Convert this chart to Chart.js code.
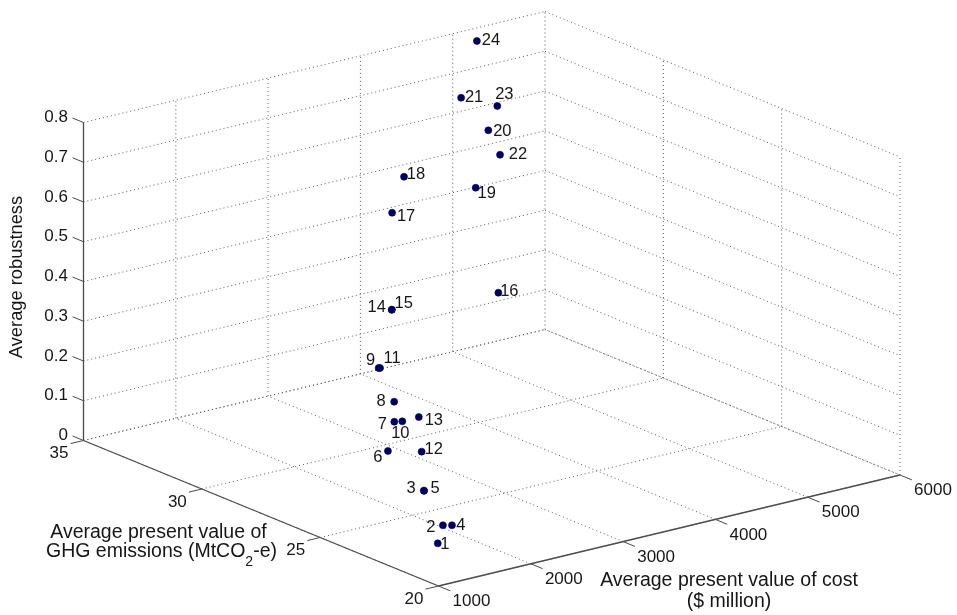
<!DOCTYPE html>
<html>
<head>
<meta charset="utf-8">
<style>html,body{margin:0;padding:0;background:#fff}canvas{display:block}</style>
<script src="https://cdn.jsdelivr.net/npm/chart.js@4"></script>
</head>
<body>
<canvas id="c" width="957" height="615"></canvas>
<script>
// ---- data ----
const pointLabels = ['1','2','3','4','5','6','7','8','9','10','11','12','13','14','15','16','17','18','19','20','21','22','23','24'];
const costValues = [1374,1512,1694,1574,1694,1911,2111,2112,2236,2172,2246,2130,2356,2635,2635,3646,2928,3278,3916,4296,4322,4300,4432,5044];
const ghgValues = [21.49,21.81,23.32,21.67,23.32,25.69,26.20,26.21,27.35,26.10,27.33,25.12,26.12,28.35,28.35,27.79,29.48,30.34,29.80,30.75,32.00,30.27,30.90,34.15];
const robustnessValues = [0.05,0.08,0.12,0.08,0.12,0.15,0.20,0.25,0.30,0.20,0.30,0.15,0.20,0.40,0.40,0.40,0.60,0.65,0.60,0.70,0.75,0.65,0.75,0.80];
const costTicks = [1000,2000,3000,4000,5000,6000];
const ghgTicks = [20,25,30,35];
const robustnessTicks = [0,0.1,0.2,0.3,0.4,0.5,0.6,0.7,0.8];
const robustnessTickLabels = ['0','0.1','0.2','0.3','0.4','0.5','0.6','0.7','0.8'];

// ---- view: orthographic projection of the 3-D box ----
const costMin=1000,costMax=6000,ghgMin=20,ghgMax=35,robMax=0.8;
function project(c,g,z){
  const u=(c-costMin)/(costMax-costMin), v=(g-ghgMin)/(ghgMax-ghgMin), w=z/robMax;
  return {x:438.5+461.5*u-355*v, y:586-111*u-145.5*v-318*w};
}
const gridColor='#5a5a5a', axisColor='#4a4a4a', dotColor='#00005c';
const datasets=[];
function seg(a,b,kind){
  datasets.push({type:'scatter',showLine:true,data:[project(...a),project(...b)],
    borderColor:kind==='grid'?gridColor:axisColor,
    borderWidth:kind==='grid'?1:(kind==='tick'?1:1.3),
    borderDash:kind==='grid'?[1,3]:[],pointRadius:0,pointHoverRadius:0,fill:false,order:5});
}
// floor grid
costTicks.forEach(c=>seg([c,ghgMin,0],[c,ghgMax,0],'grid'));
ghgTicks.forEach(g=>seg([costMin,g,0],[costMax,g,0],'grid'));
// wall grid
robustnessTicks.forEach(z=>{
  seg([costMin,ghgMax,z],[costMax,ghgMax,z],'grid');
  seg([costMax,ghgMax,z],[costMax,ghgMin,z],'grid');
});
costTicks.slice(1).forEach(c=>seg([c,ghgMax,0],[c,ghgMax,robMax],'grid'));
ghgTicks.slice(0,-1).forEach(g=>seg([costMax,g,0],[costMax,g,robMax],'grid'));
// axes
seg([costMin,ghgMin,0],[costMax,ghgMin,0],'axis');
seg([costMin,ghgMin,0],[costMin,ghgMax,0],'axis');
seg([costMin,ghgMax,0],[costMin,ghgMax,robMax],'axis');
// tick marks
costTicks.forEach(c=>seg([c,ghgMin,0],[c,ghgMin-0.5,0],'tick'));
ghgTicks.forEach(g=>seg([costMin,g,0],[costMin-140,g,0],'tick'));
robustnessTicks.forEach(z=>seg([costMin,ghgMax,z],[costMin,ghgMax+0.46,z],'tick'));
// points
datasets.push({type:'scatter',data:pointLabels.map((_,i)=>project(costValues[i],ghgValues[i],robustnessValues[i])),
  backgroundColor:dotColor,borderColor:dotColor,pointRadius:3.5,pointBorderWidth:0.6,order:1});

// label offsets from the point, in pixels
const labelOffsets=[[7,1],[-12,2],[-13,-2],[9,0],[11,-2],[-10,6],[-12,3],[-13,0],[-8,-8],[-2,12],[12,-10],[12,-2],[15,3],[-15,-2],[12,-6],[11,-1],[14,4],[12,-2],[11,6],[14,1],[13,0],[18,0],[7,-12],[14,-1]];

const textPlugin={id:'text3d',afterDatasetsDraw(chart){
  const ctx=chart.ctx,X=chart.scales.x,Y=chart.scales.y;
  const px=p=>({x:X.getPixelForValue(p.x),y:Y.getPixelForValue(p.y)});
  ctx.save();ctx.fillStyle='#161616';
  const tickFont='17px "Liberation Sans"',labelFont='16.5px "Liberation Sans"',titleFont='19.5px "Liberation Sans"';
  ctx.font=tickFont;ctx.textBaseline='middle';
  // robustness ticks
  ctx.textAlign='right';
  robustnessTicks.forEach((z,i)=>{const p=px(project(costMin,ghgMax,z));ctx.fillText(robustnessTickLabels[i],p.x-15.5,p.y-5);});
  // ghg ticks
  ctx.textAlign='center';
  ghgTicks.forEach(g=>{const p=px(project(costMin,g,0));ctx.fillText(String(g),p.x-24.5,p.y+13);});
  // cost ticks
  costTicks.forEach(c=>{const p=px(project(c,ghgMin,0));ctx.fillText(String(c),p.x+33,p.y+15.5);});
  // point labels
  ctx.font=labelFont;
  pointLabels.forEach((t,i)=>{const p=px(project(costValues[i],ghgValues[i],robustnessValues[i]));
    ctx.fillText(t,p.x+labelOffsets[i][0],p.y+labelOffsets[i][1]);});
  // titles
  ctx.font=titleFont;
  ctx.fillText('Average present value of',158.5,533);
  ctx.fillText('Average present value of cost',729,581);
  ctx.fillText('($ million)',729,602);
  ctx.textAlign='left';
  const a='GHG emissions (MtCO';let x=46;
  ctx.fillText(a,x,552);x+=ctx.measureText(a).width;
  ctx.font='14px "Liberation Sans"';ctx.fillText('2',x,562);x+=ctx.measureText('2').width;
  ctx.font=titleFont;ctx.fillText('-e)',x,552);
  ctx.textAlign='center';
  ctx.font='18.3px "Liberation Sans"';
  ctx.translate(17,277);ctx.rotate(-Math.PI/2);ctx.fillText('Average robustness',0,0);
  ctx.restore();
}};

new Chart(document.getElementById('c'),{
  data:{datasets},
  options:{responsive:false,animation:false,devicePixelRatio:1,
    layout:{padding:0,autoPadding:false},
    plugins:{legend:{display:false},tooltip:{enabled:false},title:{display:false}},
    scales:{
      x:{type:'linear',min:0,max:957,display:false},
      y:{type:'linear',min:0,max:615,reverse:true,display:false}
    }},
  plugins:[textPlugin,{id:'bg',beforeDraw(ch){const c=ch.ctx;c.save();c.fillStyle='#fff';c.fillRect(0,0,ch.width,ch.height);c.restore();}}]
});
</script>
</body>
</html>
